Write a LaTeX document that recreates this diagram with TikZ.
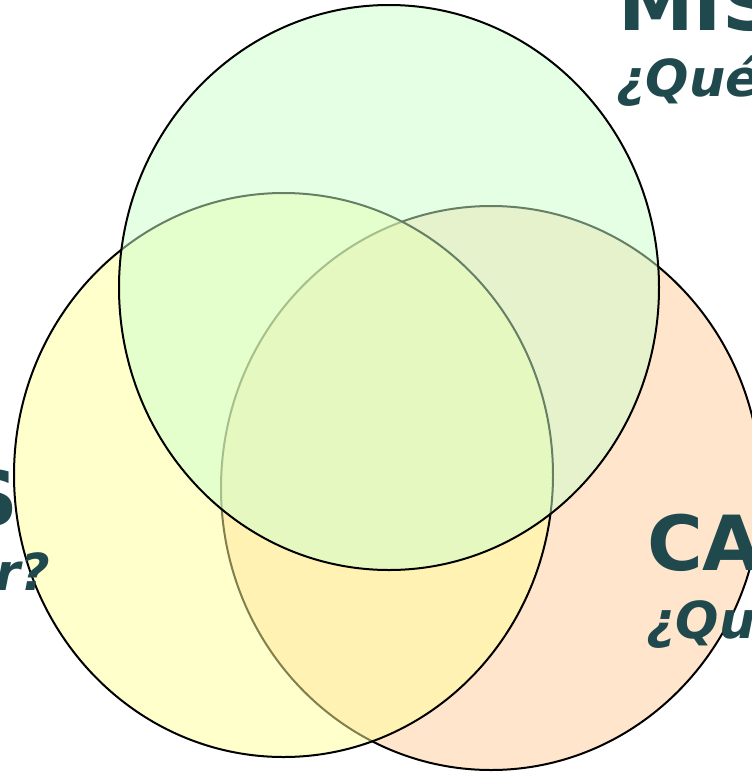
\documentclass[tikz,border=0pt]{standalone}
\usepackage{fontspec}
\setmainfont{DejaVu Sans}
\definecolor{tealtext}{RGB}{31,73,77}
\definecolor{orangefill}{RGB}{255,204,153}
\definecolor{yellowfill}{RGB}{255,255,153}
\definecolor{greenfill}{RGB}{204,255,204}
\tikzset{
  setcircle/.style={draw=black,line width=2pt,fill opacity=0.5},
  titletext/.style={text=tealtext,inner sep=0pt,font=\fontsize{76}{76}\selectfont\bfseries},
  asktext/.style={text=tealtext,inner sep=0pt,font=\fontsize{51}{51}\selectfont\bfseries\itshape}
}

\begin{document}
\begin{tikzpicture}[x=1pt,y=1pt]
    \useasboundingbox (0,0) rectangle (752,-772);

    % Draw the three circles (right, left, top)
    \draw[setcircle,fill=orangefill] (491,-488) ellipse [x radius=270,y radius=282];
    \draw[setcircle,fill=yellowfill] (283.5,-475) ellipse [x radius=269.5,y radius=282];
    \draw[setcircle,fill=greenfill] (389,-287.5) ellipse [x radius=270,y radius=282.5];

    % Labels, cut off by the page edge
    \node[titletext,anchor=base west] (mistitle) at (618,-30) {MIS};
    \node[asktext,anchor=base west] (misask) at (616,-96) {¿Qué};
    \node[titletext,anchor=base east] (lefttitle) at (18,-525) {S};
    \node[asktext,anchor=base east] (leftask) at (50,-590) {r?};
    \node[titletext,anchor=base west] (catitle) at (647,-570) {CA};
    \node[asktext,anchor=base west] (caask) at (646,-638) {¿Qu};
\end{tikzpicture}
\end{document}
